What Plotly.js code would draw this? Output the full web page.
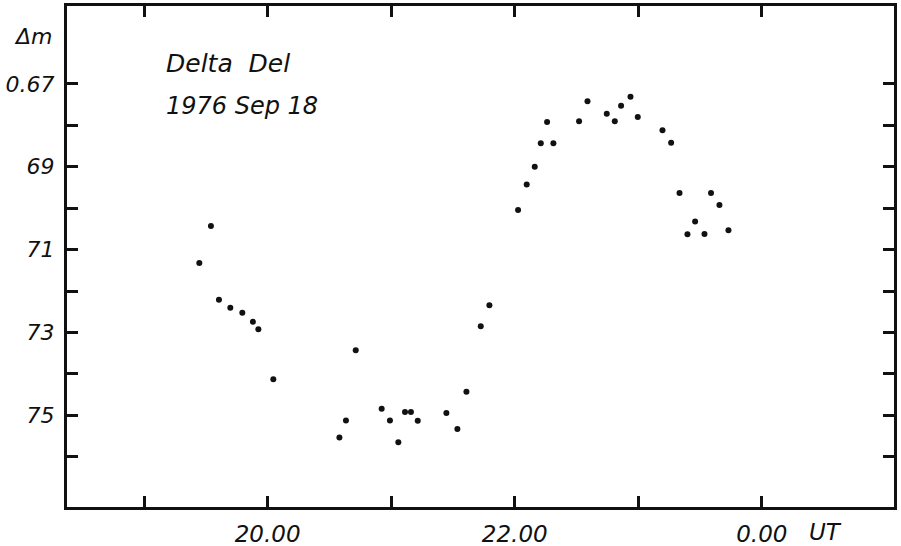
<!DOCTYPE html>
<html>
<head>
<meta charset="utf-8">
<script src="https://cdn.plot.ly/plotly-3.0.1.min.js"></script>
<style>html,body{margin:0;padding:0;background:#fff;}#chart{width:901px;height:546px;}</style>
</head>
<body>
<div id="chart"></div>
<script>
// Time in UT hours (24 = 0.00 UT next day)
var timeUT = [19.447, 19.541, 19.606, 19.698, 19.795, 19.881, 19.925, 20.046,
  20.581, 20.634, 20.713, 20.923, 20.990, 21.058, 21.112, 21.160, 21.215,
  21.447, 21.536, 21.609, 21.725, 21.795,
  22.027, 22.097, 22.162, 22.211, 22.262, 22.313, 22.521, 22.589, 22.745,
  22.810, 22.861, 22.937, 22.996, 23.196, 23.266, 23.334, 23.398, 23.460,
  23.536, 23.589, 23.657, 23.730];
// Differential magnitude
var deltaM = [0.7132, 0.7043, 0.7221, 0.7240, 0.7252, 0.7274, 0.7292, 0.7413,
  0.7553, 0.7512, 0.7343, 0.7484, 0.7512, 0.7565, 0.7492, 0.7492, 0.7513,
  0.7494, 0.7533, 0.7443, 0.7285, 0.7234,
  0.7004, 0.6943, 0.6900, 0.6843, 0.6792, 0.6843, 0.6790, 0.6742, 0.6772,
  0.6790, 0.6753, 0.6731, 0.6780, 0.6812, 0.6842, 0.6963, 0.7063, 0.7032,
  0.7062, 0.6963, 0.6992, 0.7053];

var xTickVals = [19, 20, 21, 22, 23, 24];
var xTickText = ["", "20.00", "", "22.00", "", "0.00"];
var yTickVals = [0.67, 0.68, 0.69, 0.70, 0.71, 0.72, 0.73, 0.74, 0.75, 0.76];
var yTickText = ["0.67", "", "69", "", "71", "", "73", "", "75", ""];

var fontFam = "DejaVu Sans, sans-serif";
var xTickFont = {family: fontFam, size: 23, color: "#111", style: "italic"};
var yTickFont = {family: fontFam, size: 22, color: "#111", style: "italic"};

var trace = {
  x: timeUT, y: deltaM, mode: "markers", type: "scatter",
  marker: {color: "#111", size: 6},
  hoverinfo: "none"
};

var layout = {
  width: 901, height: 546,
  margin: {l: 67, r: 7, t: 6, b: 39},
  paper_bgcolor: "#fff", plot_bgcolor: "#fff",
  showlegend: false,
  xaxis: {
    range: [18.376, 25.07],
    tickmode: "array", tickvals: xTickVals, ticktext: xTickText,
    ticks: "inside", ticklen: 11, tickwidth: 3, tickcolor: "#111",
    showline: true, linewidth: 3, linecolor: "#111", mirror: "ticks",
    showgrid: false, zeroline: false,
    tickfont: xTickFont, ticklabelstandoff: 4
  },
  yaxis: {
    range: [0.7721, 0.6512],
    tickmode: "array", tickvals: yTickVals, ticktext: yTickText,
    ticks: "inside", ticklen: 11, tickwidth: 3, tickcolor: "#111",
    showline: true, linewidth: 3, linecolor: "#111", mirror: "ticks",
    showgrid: false, zeroline: false,
    tickfont: yTickFont, ticklabelstandoff: 5
  },
  annotations: [
    {xref: "paper", yref: "paper", x: -0.016, y: 0.94, xanchor: "right", yanchor: "middle",
     text: "Δm", showarrow: false, font: {family: fontFam, size: 22, color: "#111", style: "italic"}},
    {xref: "paper", yref: "paper", x: 0.117, y: 0.885, xanchor: "left", yanchor: "middle",
     text: "Delta  Del", showarrow: false, font: {family: fontFam, size: 25, color: "#111", style: "italic"}},
    {xref: "paper", yref: "paper", x: 0.117, y: 0.80, xanchor: "left", yanchor: "middle",
     text: "1976 Sep 18", showarrow: false, font: {family: fontFam, size: 24, color: "#111", style: "italic"}},
    {xref: "paper", yref: "paper", x: 0.917, y: -0.05, xanchor: "center", yanchor: "middle",
     text: "UT", showarrow: false, font: {family: fontFam, size: 23, color: "#111", style: "italic"}}
  ]
};

Plotly.newPlot("chart", [trace], layout, {staticPlot: true, displayModeBar: false});
</script>
</body>
</html>
